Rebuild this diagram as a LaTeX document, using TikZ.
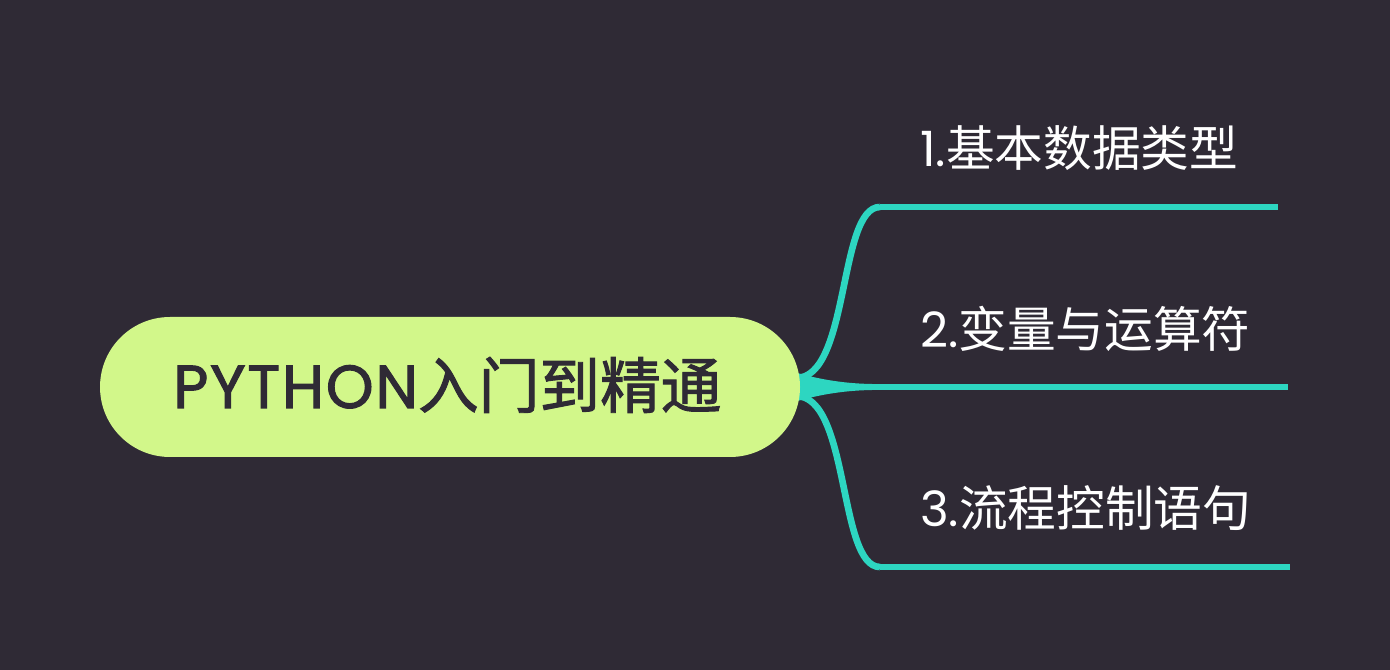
\documentclass[tikz,border=0pt]{standalone}
\usepackage{fontspec}
\newfontfamily\latinf{Poppins}
\newfontfamily\latinb{Poppins}[FakeBold=1.8,LetterSpace=3]
\newfontfamily\cjkf{Noto Sans CJK SC}
\newfontfamily\cjkb{Noto Sans CJK SC}[FakeBold=1.6]
\definecolor{bg}{HTML}{2F2A35}
\definecolor{rootfill}{HTML}{D2F78A}
\definecolor{teal}{HTML}{2DD6C1}
\begin{document}
\begin{tikzpicture}[x=0.75pt,y=-0.75pt,
  rootbox/.style={fill=rootfill,rounded corners=52.5pt,minimum width=525pt,minimum height=105pt,inner sep=0pt},
  roottext/.style={anchor=base west,inner sep=0pt,text=bg,font=\fontsize{45.5}{48}\selectfont},
  leaf/.style={anchor=base west,inner sep=0pt,text=white,font=\fontsize{36.5}{40}\selectfont},
  branch/.style={draw=teal,line width=4.5pt,line cap=butt},
  taper/.style={fill=teal}]
\fill[bg] (0,0) rectangle (1390,670);
\useasboundingbox (0,0) rectangle (1390,670);
% branch coordinates
\coordinate (s) at (800,387);
\coordinate (c1) at (880,207);
\coordinate (c2) at (872,387);
\coordinate (c3) at (880,567);
\coordinate (e1) at (1278,207);
\coordinate (e2) at (1288,387);
\coordinate (e3) at (1290,567);
% tapered start of the middle branch
\fill[taper] ([shift={(-6,-15)}]s) .. controls ([shift={(14,-9)}]s) and ([shift={(40,-3.5)}]s) .. ([yshift=2.25pt]c2) -- ([yshift=-2.25pt]c2) .. controls ([shift={(40,3.5)}]s) and ([shift={(14,9)}]s) .. ([shift={(-6,15)}]s) -- cycle;
% curved branches
\draw[branch,line width=5pt] ([shift={(-4,-9)}]s) .. controls +(54,0) and +(-42,0) .. (c1);
\draw[branch,line width=5pt] ([shift={(-4,9)}]s) .. controls +(54,0) and +(-42,0) .. (c3);
\draw[branch] (c1) -- (e1);
\draw[branch] (c2) -- (e2);
\draw[branch] (c3) -- (e3);
% root topic
\node[rootbox] (root) at (450,387) {};
\node[roottext] (rt) at (173,408) {{\latinb PYTHON}{\cjkb 入门到精通}};
% subtopics
\node[leaf] (l1) at (920,167) {{\latinf 1.}{\cjkf 基本数据类型}};
\node[leaf] (l2) at (920,348) {{\latinf 2.}{\cjkf 变量与运算符}};
\node[leaf] (l3) at (920,527) {{\latinf 3.}{\cjkf 流程控制语句}};
\end{tikzpicture}
\end{document}
